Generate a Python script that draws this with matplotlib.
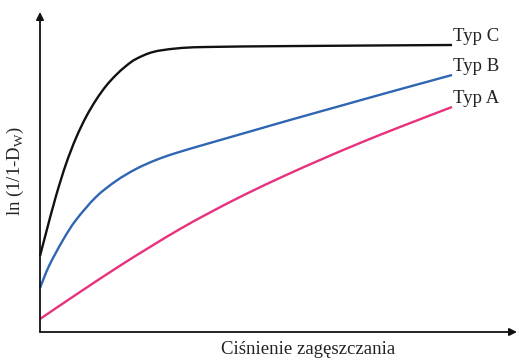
import matplotlib
matplotlib.use("Agg")
import matplotlib.pyplot as plt
from matplotlib.path import Path
from matplotlib.patches import PathPatch

# ── Data (compaction pressure vs ln(1/1-Dw), arbitrary units) ────────────────
typ_c_x = [0, 6, 16, 26, 36, 46, 56, 66, 76, 86, 96, 113, 136, 166, 260, 412]
typ_c_y = [76, 99, 136, 168, 194, 215, 232, 246, 257, 266, 273, 280, 283.5, 285, 286, 287]

typ_b_x = [0, 9, 23, 36, 56, 76, 96, 116, 136, 170, 210, 250, 300, 350, 412]
typ_b_y = [44, 66, 92, 112, 135, 151, 163, 172, 179, 189, 200.5, 212, 226, 240, 257]

typ_a_x = [0, 40, 78, 110, 140, 170, 205, 243, 280, 320, 360, 412]
typ_a_y = [13, 40, 65, 85, 103, 119.5, 137.5, 155.5, 172, 189, 205, 225]

labels  = ["Typ C", "Typ B", "Typ A"]
colors  = ["#111111", "#2f66b3", "#e8317c"]


def smooth_path(xs, ys):
    """Bezier path through the points (Catmull-Rom tangents), drawn by the axes."""
    verts = [(xs[0], ys[0])]
    codes = [Path.MOVETO]
    n = len(xs)
    for i in range(n - 1):
        x0, y0 = (xs[i - 1], ys[i - 1]) if i > 0 else (xs[i], ys[i])
        x1, y1 = xs[i], ys[i]
        x2, y2 = xs[i + 1], ys[i + 1]
        x3, y3 = (xs[i + 2], ys[i + 2]) if i + 2 < n else (x2, y2)
        verts += [(x1 + (x2 - x0) / 6, y1 + (y2 - y0) / 6),
                  (x2 - (x3 - x1) / 6, y2 - (y3 - y1) / 6),
                  (x2, y2)]
        codes += [Path.CURVE4] * 3
    return Path(verts, codes)


plt.rcParams["font.family"] = ["Liberation Serif", "DejaVu Serif"]
plt.rcParams["mathtext.fontset"] = "custom"
plt.rcParams["mathtext.rm"] = "Liberation Serif"

W, H = 519, 360
fig = plt.figure(figsize=(W / 100, H / 100), dpi=100)
ax = fig.add_axes([40 / W, 28 / H, 477 / W, 320 / H])
ax.set_xlim(0, 477)
ax.set_ylim(0, 320)
ax.axis("off")

# axes with arrow heads
arrow_kw = dict(arrowstyle="-|>", color="#111111", lw=1.3, mutation_scale=11,
                shrinkA=0, shrinkB=0)
ax.annotate("", xy=(0, 320), xytext=(0, 0), arrowprops=arrow_kw, annotation_clip=False)
ax.annotate("", xy=(477, 0), xytext=(0, 0), arrowprops=arrow_kw, annotation_clip=False)

series = [(typ_c_x, typ_c_y), (typ_b_x, typ_b_y), (typ_a_x, typ_a_y)]
for (xs, ys), lab, col in zip(series, labels, colors):
    ax.add_patch(PathPatch(smooth_path(xs, ys), facecolor="none", edgecolor=col,
                           lw=1.7, capstyle="butt", clip_on=False))
    ax.text(xs[-1] + 1, ys[-1] + 4, lab, fontsize=13.5, va="baseline", ha="left",
            color="#222222")

fig.text(308 / W, 1 - 349 / H, "Ciśnienie zagęszczania", fontsize=13.5,
         ha="center", va="center", color="#222222")
fig.text(15 / W, 1 - 171 / H, r"ln (1/1-D$_{\mathrm{W}}$)", fontsize=13.5,
         ha="center", va="center", rotation=90, color="#222222")

fig.savefig("out.png", dpi=100)
